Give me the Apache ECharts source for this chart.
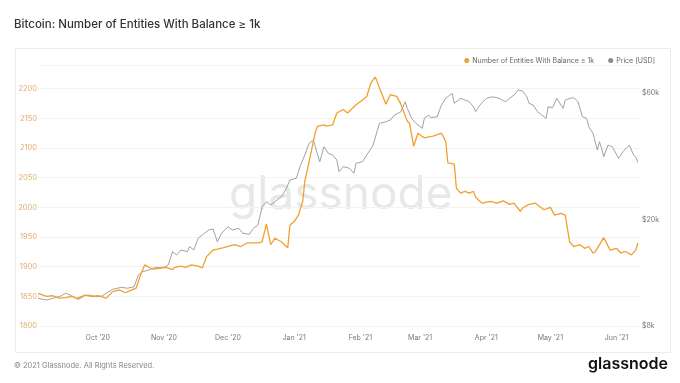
<!DOCTYPE html>
<html><head><meta charset="utf-8">
<script src="https://cdn.jsdelivr.net/npm/echarts@6/dist/echarts.min.js"></script>
<style>html,body{margin:0;padding:0;background:#fff}#c{width:680px;height:383px}</style>
</head><body><div id="c"></div>
<script>
// Number of Entities With Balance >= 1k
const entityDates = ['2020-09-03','2020-09-07','2020-09-10','2020-09-13','2020-09-16','2020-09-19','2020-09-22','2020-09-25','2020-09-28','2020-10-01','2020-10-05','2020-10-08','2020-10-11','2020-10-14','2020-10-17','2020-10-19','2020-10-21','2020-10-23','2020-10-25','2020-10-27','2020-10-30','2020-11-02','2020-11-05','2020-11-06','2020-11-09','2020-11-11','2020-11-14','2020-11-17','2020-11-19','2020-11-21','2020-11-24','2020-11-29','2020-12-04','2020-12-07','2020-12-10','2020-12-15','2020-12-17','2020-12-19','2020-12-21','2020-12-23','2020-12-26','2020-12-29','2020-12-30','2021-01-01','2021-01-03','2021-01-05','2021-01-06','2021-01-09','2021-01-11','2021-01-12','2021-01-15','2021-01-16','2021-01-19','2021-01-21','2021-01-24','2021-01-26','2021-01-30','2021-02-02','2021-02-04','2021-02-06','2021-02-08','2021-02-10','2021-02-13','2021-02-15','2021-02-18','2021-02-20','2021-02-23','2021-02-24','2021-02-26','2021-02-28','2021-03-03','2021-03-07','2021-03-11','2021-03-13','2021-03-14','2021-03-17','2021-03-18','2021-03-20','2021-03-22','2021-03-24','2021-03-26','2021-03-27','2021-03-30','2021-04-03','2021-04-06','2021-04-09','2021-04-12','2021-04-14','2021-04-17','2021-04-18','2021-04-21','2021-04-24','2021-04-28','2021-05-01','2021-05-03','2021-05-06','2021-05-08','2021-05-10','2021-05-12','2021-05-15','2021-05-17','2021-05-19','2021-05-21','2021-05-22','2021-05-26','2021-05-29','2021-06-01','2021-06-03','2021-06-05','2021-06-08','2021-06-10','2021-06-11'];
const entityValues = [1855,1850,1851,1847,1848,1850,1845,1852,1850,1851,1847,1858,1861,1856,1861,1864,1886,1903,1899,1896,1897,1899,1895,1899,1901,1899,1903,1901,1898,1917,1928,1932,1937,1934,1940,1940,1942,1972,1937,1948,1942,1932,1970,1976,1987,2010,2044,2094,2128,2137,2139,2137,2139,2159,2165,2159,2173,2181,2187,2210,2220,2201,2174,2190,2187,2174,2145,2142,2103,2125,2117,2120,2125,2111,2075,2073,2032,2024,2027,2024,2027,2017,2007,2010,2007,2011,2005,2007,1993,1999,2005,2007,1996,2000,1987,1990,1987,1942,1934,1937,1931,1934,1923,1925,1949,1928,1931,1923,1926,1920,1928,1940];

// Price [USD]
const priceDates = ['2020-09-03','2020-09-07','2020-09-10','2020-09-13','2020-09-16','2020-09-18','2020-09-21','2020-09-24','2020-09-27','2020-09-30','2020-10-03','2020-10-05','2020-10-08','2020-10-12','2020-10-15','2020-10-18','2020-10-20','2020-10-22','2020-10-25','2020-10-28','2020-11-01','2020-11-03','2020-11-05','2020-11-07','2020-11-09','2020-11-12','2020-11-13','2020-11-15','2020-11-17','2020-11-20','2020-11-22','2020-11-24','2020-11-26','2020-11-28','2020-12-01','2020-12-03','2020-12-06','2020-12-08','2020-12-11','2020-12-13','2020-12-15','2020-12-17','2020-12-19','2020-12-21','2020-12-23','2020-12-26','2020-12-28','2020-12-30','2021-01-02','2021-01-04','2021-01-06','2021-01-08','2021-01-10','2021-01-12','2021-01-13','2021-01-15','2021-01-17','2021-01-19','2021-01-21','2021-01-22','2021-01-24','2021-01-27','2021-01-29','2021-01-30','2021-02-02','2021-02-05','2021-02-07','2021-02-09','2021-02-10','2021-02-13','2021-02-15','2021-02-17','2021-02-20','2021-02-22','2021-02-23','2021-02-25','2021-02-27','2021-03-02','2021-03-03','2021-03-05','2021-03-06','2021-03-09','2021-03-11','2021-03-13','2021-03-16','2021-03-17','2021-03-20','2021-03-22','2021-03-24','2021-03-26','2021-03-27','2021-03-29','2021-04-01','2021-04-04','2021-04-07','2021-04-10','2021-04-12','2021-04-14','2021-04-16','2021-04-18','2021-04-20','2021-04-21','2021-04-23','2021-04-25','2021-04-28','2021-04-29','2021-04-30','2021-05-02','2021-05-04','2021-05-05','2021-05-07','2021-05-08','2021-05-10','2021-05-12','2021-05-14','2021-05-16','2021-05-18','2021-05-19','2021-05-21','2021-05-23','2021-05-24','2021-05-25','2021-05-26','2021-05-28','2021-05-30','2021-06-02','2021-06-04','2021-06-07','2021-06-09','2021-06-10','2021-06-11'];
const priceValues = [10160,10010,10160,10300,10610,10450,10160,10360,10450,10300,10360,10610,10980,11170,11080,11230,12420,12780,12970,13270,13270,13540,15190,14760,15410,15190,15860,15410,17050,17800,18310,18470,16550,17800,18840,18310,18580,17800,17640,18580,19120,22380,23370,22720,23370,24400,25850,28180,28600,32070,34960,38680,39790,34960,33000,37550,35470,34960,33480,30270,31600,31170,29850,32550,33000,35960,38110,43370,45950,46600,47270,49360,50790,55360,52300,47970,45950,44000,47970,49360,48220,48640,53800,57000,59510,54610,57000,56170,55360,53020,50790,53800,57000,57800,57000,55360,57000,58660,61240,60710,57800,54610,53800,50790,48640,47970,53020,52560,57000,55360,52300,56170,57000,57300,55360,48640,47970,44610,42140,36500,39220,37040,34450,38110,37550,33980,35960,38110,34960,34450,32830];

const monthLabels = ["Oct '20","Nov '20","Dec '20","Jan '21","Feb '21","Mar '21","Apr '21","May '21","Jun '21"];
const leftTicks = [1800,1850,1900,1950,2000,2050,2100,2150,2200];
const priceTicks = [8000,20000,60000];
const priceTickLabels = ['$8k','$20k','$60k'];

const ts = s => new Date(s + 'T00:00:00').getTime();
const ORANGE = '#f29f2c', GRAY = '#8a8a8a';
const DAY = 86400000;

function monthLabel(v){
  const d = new Date(v);
  const key = ["Jan","Feb","Mar","Apr","May","Jun","Jul","Aug","Sep","Oct","Nov","Dec"][d.getMonth()] + " '" + String(d.getFullYear()).slice(2);
  return monthLabels.indexOf(key) >= 0 ? key : '';
}

const chart = echarts.init(document.getElementById('c'), null, {renderer:'canvas'});
chart.setOption({
  animation:false,
  backgroundColor:'#fff',
  textStyle:{fontFamily:'Inter, Roboto, sans-serif'},
  title:{text:'Bitcoin: Number of Entities With Balance ≥ 1k', left:9, top:14,
    textStyle:{fontSize:11.5, fontWeight:500, color:'#333', fontFamily:'Inter'}},
  legend:{right:20, top:52, itemWidth:5, itemHeight:5, itemGap:14, icon:'circle',
    textStyle:{fontSize:7, color:'#666', padding:[0,0,0,-2]},
    data:['Number of Entities With Balance ≥ 1k','Price [USD]']},
  graphic:[
    {type:'rect', left:13, top:46, z:-10, shape:{width:655, height:304}, style:{fill:'none', stroke:'#ececec', lineWidth:1}},
    {type:'text', left:229, top:172, z:-5, style:{text:'glassnode', fontSize:46, fontFamily:'Inter', fontWeight:400, fill:'#e8e8e8'}},
    {type:'text', left:14, top:362, style:{text:'© 2021 Glassnode. All Rights Reserved.', fontSize:7.5, fill:'#888', fontFamily:'Inter'}},
    {type:'text', right:12, top:356, style:{text:'glassnode', fontSize:16, fontWeight:600, fill:'#111', fontFamily:'Inter'}}
  ],
  grid:{left:38, right:40, top:65, bottom:57},
  xAxis:{type:'time', min:ts('2020-09-03'), max:ts('2021-06-12'),
    minInterval:28*DAY, maxInterval:31*DAY,
    axisLine:{show:false}, axisTick:{show:false}, splitLine:{show:false},
    axisLabel:{margin:8, fontSize:7, color:'#777', hideOverlap:false, formatter:monthLabel}},
  yAxis:[
    {type:'value', min:1800, max:2240, interval:50, position:'left',
      axisLine:{show:false}, axisTick:{show:false},
      axisLabel:{fontSize:7.5, color:'#dfae70', margin:1, showMaxLabel:false,
        formatter:v=>leftTicks.indexOf(v)>=0?String(v):''},
      splitLine:{lineStyle:{color:'#f3f3f3', width:1}}},
    {type:'log', logBase:10, min:8000, max:76000, position:'right',
      axisLine:{show:false}, axisTick:{show:false}, splitLine:{show:false},
      axisLabel:{customValues:priceTicks, fontSize:7, color:'#777', margin:2,
        formatter:v=>{let i=priceTicks.findIndex(t=>Math.abs(t-v)<1); return i>=0?priceTickLabels[i]:'';}}}
  ],
  series:[
    {name:'Number of Entities With Balance ≥ 1k', type:'line', yAxisIndex:0, showSymbol:false, z:3,
      color:ORANGE, lineStyle:{width:1.3, color:ORANGE},
      data:entityDates.map((d,i)=>[ts(d), entityValues[i]])},
    {name:'Price [USD]', type:'line', yAxisIndex:1, showSymbol:false, z:2,
      color:GRAY, lineStyle:{width:0.8, color:GRAY},
      data:priceDates.map((d,i)=>[ts(d), priceValues[i]])}
  ]
});
</script></body></html>
